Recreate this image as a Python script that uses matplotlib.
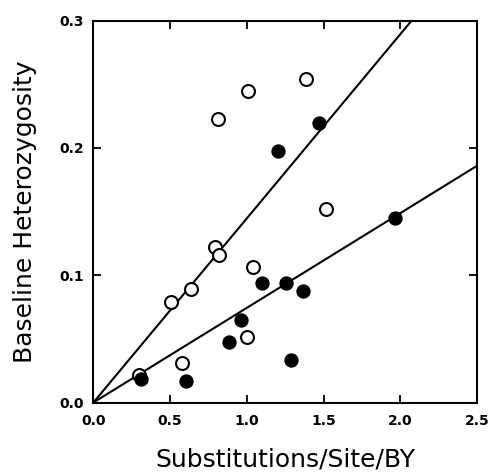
import matplotlib
matplotlib.use("Agg")
import matplotlib.pyplot as plt

# Open circles
open_x = [0.809, 1.005, 1.384, 1.513, 0.792, 0.818, 1.037, 0.503, 0.633, 1.002, 0.579, 0.298]
open_y = [0.2225, 0.245, 0.254, 0.1518, 0.1219, 0.1156, 0.1064, 0.0789, 0.0894, 0.0515, 0.031, 0.0216]
# Filled circles
filled_x = [1.206, 1.473, 1.964, 0.307, 0.603, 0.885, 0.959, 1.098, 1.252, 1.365, 1.287]
filled_y = [0.1976, 0.2196, 0.1452, 0.0185, 0.0169, 0.0475, 0.0648, 0.0939, 0.0939, 0.0876, 0.0331]
# Regression lines through origin
slope_open = 0.1447
slope_filled = 0.0744

xticks = [0.0, 0.5, 1.0, 1.5, 2.0, 2.5]
yticks = [0.0, 0.1, 0.2, 0.3]

fig = plt.figure(figsize=(4.89, 4.75), dpi=100)
ax = fig.add_axes([0.191, 0.1526, 0.7845, 0.8038])

ax.axline((0, 0), slope=slope_open, color="black", lw=1.5)
ax.axline((0, 0), slope=slope_filled, color="black", lw=1.5)
ax.plot(open_x, open_y, "o", ms=9.3, mfc="white", mec="black", mew=1.5, clip_on=False, zorder=3)
ax.plot(filled_x, filled_y, "o", ms=9.3, mfc="black", mec="black", mew=1.0, clip_on=False, zorder=3)

ax.set_xlim(0, 2.5)
ax.set_ylim(0, 0.3)
ax.set_xticks(xticks)
ax.set_yticks(yticks)
ax.set_xticklabels([f"{t:.1f}" for t in xticks], fontweight="bold", fontsize=10)
ax.set_yticklabels([f"{t:.1f}" for t in yticks], fontweight="bold", fontsize=10)
ax.tick_params(direction="in", top=True, right=True, length=6, width=1.3)
ax.tick_params(axis="x", pad=8)
ax.tick_params(axis="y", pad=7)
for s in ax.spines.values():
    s.set_linewidth(1.5)

ax.set_xlabel("Substitutions/Site/BY", fontsize=18, labelpad=14)
ax.set_ylabel("Baseline Heterozygosity", fontsize=18, labelpad=16)

fig.savefig("out.png", dpi=100)
